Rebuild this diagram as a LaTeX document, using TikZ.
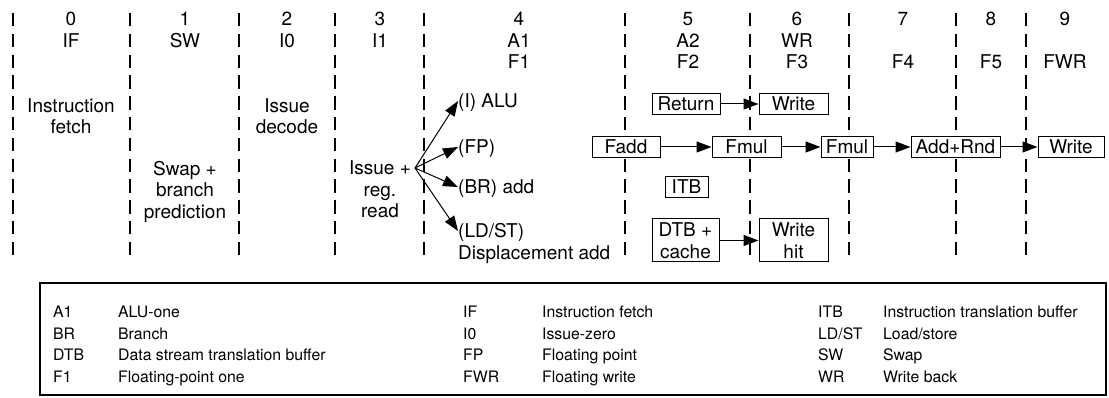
\documentclass[tikz,border=0pt]{standalone}
\usepackage{fontspec}
\setmainfont{TeX Gyre Heros}
\usetikzlibrary{arrows.meta, positioning}
\tikzset{
  lbl/.style={inner sep=0pt, text height=13.6pt, text depth=0pt},
  blk/.style={align=center, inner sep=0pt},
  box/.style={draw, fill=white, line width=1pt, inner sep=0pt, minimum height=21pt, text height=13.6pt, text depth=0pt},
  tallbox/.style={draw, fill=white, line width=1pt, align=center, inner sep=0pt, minimum height=43pt},
  arr/.style={-{Triangle[length=15pt, width=11pt]}, line width=1pt},
  sep/.style={dash pattern=on 13.5pt off 7.3pt, line width=1.1pt},
  leg/.style={anchor=west, inner sep=0pt, text height=11.3pt, text depth=0pt},
}

\begin{document}
\begin{tikzpicture}[x=1pt, y=-1pt, font=\fontsize{19}{21.5}\selectfont]
    \useasboundingbox (0,0) rectangle (1109,398);
    % stage boundaries
    \foreach \x in {13,130,239,335,424,625,750,849,956,1026}
      \draw[sep] (\x,13) -- (\x,256);
    % stage numbers and names
    \node[lbl] (n0) at (71,19) {0};
    \node[lbl] (n1) at (185,19) {1};
    \node[lbl] (n2) at (287,19) {2};
    \node[lbl] (n3) at (380,19) {3};
    \node[lbl] (n4) at (519,19) {4};
    \node[lbl] (n5) at (688,19) {5};
    \node[lbl] (n6) at (797,19) {6};
    \node[lbl] (n7) at (903,19) {7};
    \node[lbl] (n8) at (991,19) {8};
    \node[lbl] (n9) at (1065,19) {9};
    \node[lbl] (sIF) at (71,41) {IF};
    \node[lbl] (sSW) at (185,41) {SW};
    \node[lbl] (sI0) at (287,41) {I0};
    \node[lbl] (sI1) at (380,41) {I1};
    \node[lbl] (sA1) at (519,41) {A1};
    \node[lbl] (sA2) at (688,41) {A2};
    \node[lbl] (sWR) at (797,41) {WR};
    \node[lbl] (sF1) at (519,62) {F1};
    \node[lbl] (sF2) at (688,62) {F2};
    \node[lbl] (sF3) at (797,62) {F3};
    \node[lbl] (sF4) at (903,62) {F4};
    \node[lbl] (sF5) at (991,62) {F5};
    \node[lbl] (sFWR) at (1065,62) {FWR};
    % what each stage does
    \node[blk] (ifetch) at (71,116) {Instruction\\fetch};
    \node[blk] (swap) at (185,191.5) {Swap +\\branch\\prediction};
    \node[blk] (idec) at (287,116) {Issue\\decode};
    \node[blk] (issue) at (380,189.5) {Issue +\\reg.\\read};
    \coordinate (fan) at (415,168);
    \node[lbl, anchor=west] (alu) at (458,101) {(I) ALU};
    \node[lbl, anchor=west] (fp) at (458,147) {(FP)};
    \node[lbl, anchor=west] (br) at (458,187) {(BR) add};
    \node[lbl, anchor=west] (ldst) at (458,231) {(LD/ST)};
    \node[lbl, anchor=west] (disp) at (458,252.5) {Displacement add};
    \draw[arr] (fan) -- (alu.west);
    \draw[arr] (fan) -- (fp.west);
    \draw[arr] (fan) -- (br.west);
    \draw[arr] (fan) -- (ldst.west);
    % pipelines
    \node[box, minimum width=68pt] (ret) at (686,104) {Return};
    \node[box, minimum width=69pt, right=38pt of ret] (wr) {Write};
    \node[box, minimum width=68pt] (fadd) at (626,147) {Fadd};
    \node[box, minimum width=69pt, right=51pt of fadd] (fmul) {Fmul};
    \node[box, minimum width=52pt, right=39pt of fmul] (fmulb) {Fmul};
    \node[box, minimum width=89pt, right=37pt of fmulb] (addrnd) {Add+Rnd};
    \node[box, minimum width=66pt, right=37pt of addrnd] (fwr) {Write};
    \node[box, minimum width=43pt] (itb) at (686.5,187) {ITB};
    \node[tallbox, minimum width=67pt] (dtb) at (685.5,240.5) {DTB +\\cache};
    \node[tallbox, minimum width=69pt, right=39pt of dtb] (wrhit) {Write\\hit};
    \draw[arr] (ret) -- (wr);
    \draw[arr] (fadd) -- (fmul);
    \draw[arr] (fmul) -- (fmulb);
    \draw[arr] (fmulb) -- (addrnd);
    \draw[arr] (addrnd) -- (fwr);
    \draw[arr] (dtb) -- (wrhit);
    % legend
    \draw[line width=1.3pt] (40,283) rectangle (1106,395);
    \begin{scope}[font=\fontsize{15.8}{21.5}\selectfont]
      \foreach \ab/\tx [count=\i] in {A1/ALU-one, BR/Branch, DTB/Data stream translation buffer, F1/Floating-point one} {
        \node[leg] (ka\i) at (53,{290.5+21.5*\i}) {\ab};
        \node[leg] (ta\i) at (118,{290.5+21.5*\i}) {\tx};
      }
      \foreach \ab/\tx [count=\i] in {IF/Instruction fetch, I0/Issue-zero, FP/Floating point, FWR/Floating write} {
        \node[leg] (kb\i) at (463,{290.5+21.5*\i}) {\ab};
        \node[leg] (tb\i) at (542,{290.5+21.5*\i}) {\tx};
      }
      \foreach \ab/\tx [count=\i] in {ITB/Instruction translation buffer, {LD/ST}/{Load/store}, SW/Swap, WR/Write back} {
        \node[leg] (kc\i) at (818,{290.5+21.5*\i}) {\ab};
        \node[leg] (tc\i) at (883,{290.5+21.5*\i}) {\tx};
      }
    \end{scope}
  \end{tikzpicture}
\end{document}
